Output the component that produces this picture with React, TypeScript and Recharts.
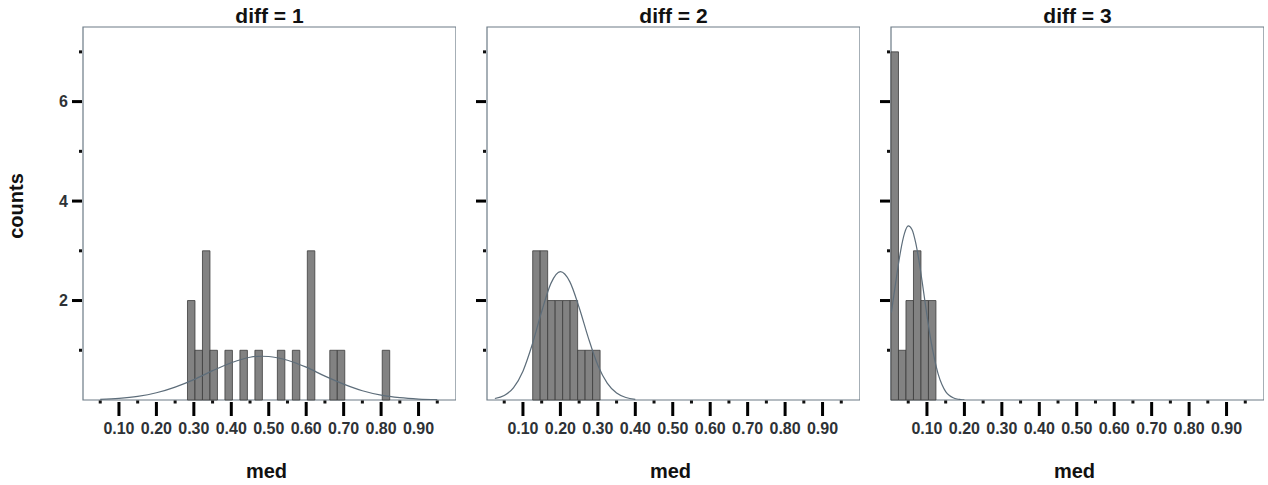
import { ComposedChart, XAxis, YAxis, Line, ReferenceArea } from "recharts";

const panelTitles = ["diff = 1", "diff = 2", "diff = 3"];
const xAxisTitle = "med";
const yAxisTitle = "counts";

const majorXTicks = [0.1, 0.2, 0.3, 0.4, 0.5, 0.6, 0.7, 0.8, 0.9];
const minorXTicks = [0.05, 0.15, 0.25, 0.35, 0.45, 0.55, 0.65, 0.75, 0.85, 0.95];
const xTickLabels = ["0.10", "0.20", "0.30", "0.40", "0.50", "0.60", "0.70", "0.80", "0.90"];
const majorYTicks = [2, 4, 6];
const minorYTicks = [1, 3, 5, 7];
const yTickLabels = ["2", "4", "6"];

const BIN_WIDTH = 0.02;

// diff = 1
const bins1 = [0.283, 0.303, 0.323, 0.343, 0.383, 0.423, 0.463, 0.523, 0.563, 0.603, 0.663, 0.683, 0.803];
const counts1 = [2, 1, 3, 1, 1, 1, 1, 1, 1, 3, 1, 1, 1];
const curveX1 = [0.05, 0.1, 0.15, 0.2, 0.25, 0.3, 0.35, 0.4, 0.45, 0.48, 0.5, 0.55, 0.6, 0.65, 0.7, 0.75, 0.8, 0.85, 0.9, 0.95];
const curveY1 = [0.013, 0.033, 0.073, 0.145, 0.26, 0.41, 0.59, 0.75, 0.86, 0.88, 0.875, 0.8, 0.66, 0.48, 0.32, 0.185, 0.097, 0.046, 0.019, 0.007];

// diff = 2
const bins2 = [0.126, 0.146, 0.166, 0.186, 0.206, 0.226, 0.246, 0.266, 0.286];
const counts2 = [3, 3, 2, 2, 2, 2, 1, 1, 1];
const curveX2 = [0.025, 0.05, 0.075, 0.1, 0.125, 0.15, 0.175, 0.2, 0.225, 0.25, 0.275, 0.3, 0.325, 0.35, 0.375, 0.4];
const curveY2 = [0.03, 0.09, 0.25, 0.58, 1.12, 1.78, 2.35, 2.58, 2.38, 1.86, 1.24, 0.7, 0.34, 0.14, 0.05, 0.014];

// diff = 3
const bins3 = [0.004, 0.024, 0.044, 0.064, 0.084, 0.104];
const counts3 = [7, 1, 2, 3, 2, 2];
const curveX3 = [0.005, 0.02, 0.03, 0.04, 0.05, 0.06, 0.07, 0.08, 0.09, 0.1, 0.11, 0.12, 0.13, 0.14, 0.15, 0.16, 0.17, 0.18, 0.19, 0.2];
const curveY3 = [1.76, 2.54, 3.01, 3.35, 3.5, 3.43, 3.16, 2.74, 2.23, 1.7, 1.22, 0.83, 0.52, 0.31, 0.17, 0.09, 0.045, 0.02, 0.01, 0.004];

const X_DOMAIN: [number, number] = [0.004, 1.0];
const Y_DOMAIN: [number, number] = [0, 7.5];
const PANEL_LEFTS = [83, 487, 891];
const PLOT_SIZE = 373;
const AXIS_W = 45;

const FONT = '"Liberation Sans", Arial, sans-serif';
const FRAME = "#6c7b86";
const BAR_FILL = "#828282";
const BAR_STROKE = "#3c3c3c";
const CURVE = "#5d6d7a";
const TEXT = "#2e3236";

const xTicks = [...majorXTicks, ...minorXTicks].sort((a, b) => a - b);
const yTicks = [...majorYTicks, ...minorYTicks].sort((a, b) => a - b);

function XTick(props: any) {
  const { x, y, payload } = props;
  const i = majorXTicks.indexOf(payload.value);
  if (i < 0) {
    return <rect x={x - 1.5} y={y + 0.5} width={3} height={3} fill="#111" />;
  }
  return (
    <g>
      <rect x={x - 1.5} y={y + 2} width={3} height={14} fill="#000" />
      <text x={x} y={y + 34} textAnchor="middle" fontFamily={FONT} fontWeight="bold" fontSize={16} fill={TEXT}>
        {xTickLabels[i]}
      </text>
    </g>
  );
}

function YTick(props: any) {
  const { x, y, payload, showLabel } = props;
  const i = majorYTicks.indexOf(payload.value);
  if (i < 0) {
    return <rect x={x - 4} y={y - 1.5} width={3} height={3} fill="#111" />;
  }
  return (
    <g>
      <rect x={x - 11} y={y - 1.5} width={10} height={3} fill="#000" />
      {showLabel && (
        <text x={x - 15} y={y} dy="0.35em" textAnchor="end" fontFamily={FONT} fontWeight="bold" fontSize={16} fill={TEXT}>
          {yTickLabels[i]}
        </text>
      )}
    </g>
  );
}

function Panel({
  index,
  bins,
  counts,
  curveX,
  curveY,
}: {
  index: number;
  bins: number[];
  counts: number[];
  curveX: number[];
  curveY: number[];
}) {
  const curve = curveX.map((x, i) => ({ x, y: curveY[i] }));
  return (
    <div style={{ position: "absolute", left: PANEL_LEFTS[index] - AXIS_W, top: 0 }}>
      <ComposedChart
        width={PLOT_SIZE + AXIS_W}
        height={485}
        margin={{ top: 27, right: 0, bottom: 0, left: 0 }}
      >
        <XAxis
          type="number"
          dataKey="x"
          domain={X_DOMAIN}
          allowDataOverflow
          ticks={xTicks}
          interval={0}
          tickSize={0}
          tickMargin={0}
          axisLine={false}
          tickLine={false}
          height={485 - 27 - PLOT_SIZE}
          tick={XTick}
        />
        <YAxis
          type="number"
          domain={Y_DOMAIN}
          allowDataOverflow
          ticks={yTicks}
          interval={0}
          tickSize={0}
          tickMargin={0}
          width={AXIS_W}
          axisLine={false}
          tickLine={false}
          tick={(p: any) => <YTick {...p} showLabel={index === 0} />}
        />
        <ReferenceArea
          x1={X_DOMAIN[0]}
          x2={X_DOMAIN[1]}
          y1={Y_DOMAIN[0]}
          y2={Y_DOMAIN[1]}
          fill="#ffffff"
          fillOpacity={0}
          stroke={FRAME}
          strokeWidth={1.2}
          ifOverflow="visible"
        />
        {bins.map((b, i) => (
          <ReferenceArea
            key={i}
            x1={b}
            x2={b + BIN_WIDTH}
            y1={0}
            y2={counts[i]}
            fill={BAR_FILL}
            fillOpacity={1}
            stroke={BAR_STROKE}
            strokeWidth={0.8}
            ifOverflow="visible"
          />
        ))}
        <Line
          data={curve}
          dataKey="y"
          type="monotone"
          dot={false}
          stroke={CURVE}
          strokeWidth={1.2}
          isAnimationActive={false}
        />
      </ComposedChart>
    </div>
  );
}

export default function App() {
  return (
    <div
      style={{
        position: "absolute",
        left: 0,
        top: 0,
        width: 1268,
        height: 485,
        background: "#fff",
        overflow: "hidden",
      }}
    >
      <Panel index={0} bins={bins1} counts={counts1} curveX={curveX1} curveY={curveY1} />
      <Panel index={1} bins={bins2} counts={counts2} curveX={curveX2} curveY={curveY2} />
      <Panel index={2} bins={bins3} counts={counts3} curveX={curveX3} curveY={curveY3} />
      <svg
        width={1268}
        height={485}
        style={{ position: "absolute", left: 0, top: 0, pointerEvents: "none" }}
      >
        {panelTitles.map((t, i) => (
          <text
            key={t}
            x={PANEL_LEFTS[i] + PLOT_SIZE / 2}
            y={23}
            textAnchor="middle"
            fontFamily={FONT}
            fontWeight="bold"
            fontSize={21}
            fill="#111"
          >
            {t}
          </text>
        ))}
        {PANEL_LEFTS.map((l, i) => (
          <text
            key={i}
            x={l + PLOT_SIZE / 2 - 3}
            y={478}
            textAnchor="middle"
            fontFamily={FONT}
            fontWeight="bold"
            fontSize={20}
            fill="#111"
          >
            {xAxisTitle}
          </text>
        ))}
        <text
          x={23}
          y={206}
          transform="rotate(-90 23 206)"
          textAnchor="middle"
          fontFamily={FONT}
          fontWeight="bold"
          fontSize={20}
          fill="#111"
        >
          {yAxisTitle}
        </text>
      </svg>
    </div>
  );
}
